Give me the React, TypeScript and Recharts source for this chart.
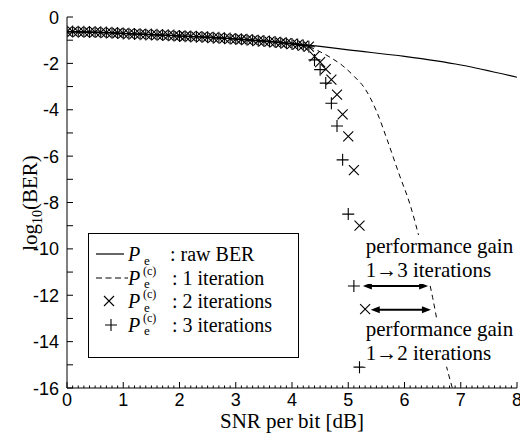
import React from 'react'
import { ComposedChart, Line, Scatter, XAxis, YAxis, ReferenceLine, ReferenceDot, Label } from 'recharts'

// SNR grid for the low-SNR region where every curve overlaps (0 .. 4.3 dB)
const lowSnr = [
  0, 0.1, 0.2, 0.3, 0.4, 0.5, 0.6, 0.7, 0.8, 0.9,
  1.0, 1.1, 1.2, 1.3, 1.4, 1.5, 1.6, 1.7, 1.8, 1.9,
  2.0, 2.1, 2.2, 2.3, 2.4, 2.5, 2.6, 2.7, 2.8, 2.9,
  3.0, 3.1, 3.2, 3.3, 3.4, 3.5, 3.6, 3.7, 3.8, 3.9,
  4.0, 4.1, 4.2, 4.3,
]
const lowSnrLogBer = [
  -0.63, -0.63, -0.64, -0.64, -0.65, -0.65, -0.66, -0.67, -0.68, -0.69,
  -0.71, -0.72, -0.73, -0.74, -0.75, -0.76, -0.77, -0.78, -0.79, -0.8,
  -0.82, -0.83, -0.84, -0.85, -0.86, -0.87, -0.89, -0.9, -0.92, -0.93,
  -0.95, -0.96, -0.98, -1.0, -1.02, -1.04, -1.06, -1.08, -1.11, -1.13,
  -1.16, -1.19, -1.23, -1.28,
]

// 2 iterations (x markers) after the waterfall starts
const iter2TailSnr = [4.4, 4.5, 4.6, 4.7, 4.8, 4.9, 5.0, 5.1, 5.2, 5.3]
const iter2TailLogBer = [-1.7, -1.95, -2.25, -2.7, -3.35, -4.2, -5.15, -6.6, -9.0, -12.6]

// 3 iterations (+ markers)
const iter3TailSnr = [4.4, 4.5, 4.6, 4.7, 4.8, 4.9, 5.0, 5.1, 5.2]
const iter3TailLogBer = [-1.85, -2.27, -2.85, -3.72, -4.7, -6.16, -8.5, -11.6, -15.1]

// raw BER (solid)
const rawSnr = [0, 1, 2, 3, 4, 4.5, 5, 6, 7, 8]
const rawLogBer = [-0.63, -0.71, -0.82, -0.95, -1.14, -1.27, -1.42, -1.7, -2.07, -2.6]

// 1 iteration (dashed)
const iter1Snr = [0, 1, 2, 3, 4, 4.3, 4.5, 4.7, 4.9, 5.1, 5.3, 5.5, 5.7, 5.9, 6.1, 6.3, 6.5, 6.7, 6.85]
const iter1LogBer = [-0.63, -0.71, -0.82, -0.95, -1.16, -1.28, -1.5, -1.77, -2.1, -2.55, -3.1, -4.05, -5.35, -6.75, -8.1, -9.9, -12.1, -14.6, -16]

const xMajorTicks = [0, 1, 2, 3, 4, 5, 6, 7, 8]
const xTicks = Array.from({ length: 81 }, (_, i) => i / 10)
const yTicks = [0, -1, -2, -3, -4, -5, -6, -7, -8, -9, -10, -11, -12, -13, -14, -15, -16]
const yLabelTicks = [0, -2, -4, -6, -8, -10, -12, -14, -16]

const toPoints = (xs: number[], ys: number[]) => xs.map((x, i) => ({ x, y: ys[i] }))
const rawData = toPoints(rawSnr, rawLogBer)
const iter1Data = toPoints(iter1Snr, iter1LogBer)
const iter2Data = toPoints([...lowSnr, ...iter2TailSnr], [...lowSnrLogBer, ...iter2TailLogBer])
const iter3Data = toPoints([...lowSnr, ...iter3TailSnr], [...lowSnrLogBer, ...iter3TailLogBer])

const SERIF = '"Liberation Serif", "Times New Roman", serif'
const SANS = '"Liberation Sans", Arial, sans-serif'

const CrossMark = ({ cx, cy }: any) => (
  <path d={`M${cx - 5},${cy - 5}L${cx + 5},${cy + 5}M${cx - 5},${cy + 5}L${cx + 5},${cy - 5}`} stroke="#000" strokeWidth={1.1} fill="none" />
)
const PlusMark = ({ cx, cy }: any) => (
  <path d={`M${cx - 6},${cy}L${cx + 6},${cy}M${cx},${cy - 6}L${cx},${cy + 6}`} stroke="#000" strokeWidth={1.1} fill="none" />
)

const isMajor = (v: number) => Math.abs(v - Math.round(v)) < 1e-6

const xTick = (side: 'bottom' | 'top') => (p: any) => {
  const v = p.payload.value
  const len = isMajor(v) ? 6 : 2.5
  const dir = side === 'bottom' ? -1 : 1
  return (
    <g>
      <line x1={p.x} x2={p.x} y1={p.y} y2={p.y + dir * len} stroke="#000" strokeWidth={1} />
      {side === 'bottom' && xMajorTicks.includes(v) && (
        <text x={p.x} y={p.y + 18} textAnchor="middle" fontFamily={SANS} fontSize={18} fill="#000">{v}</text>
      )}
    </g>
  )
}

const yTick = (side: 'left' | 'right') => (p: any) => {
  const v = p.payload.value
  const dir = side === 'left' ? 1 : -1
  return (
    <g>
      <line x1={p.x} x2={p.x + dir * 6} y1={p.y} y2={p.y} stroke="#000" strokeWidth={1} />
      {side === 'left' && yLabelTicks.includes(v) && (
        <text x={p.x - 8} y={p.y + 6.5} textAnchor="end" fontFamily={SANS} fontSize={18} fill="#000">{v}</text>
      )}
    </g>
  )
}

const XTitle = () => (
  <text x={292} y={428} textAnchor="middle" fontFamily={SERIF} fontSize={21} fill="#000">SNR per bit [dB]</text>
)
const YTitle = () => (
  <text transform="translate(37,203) rotate(-90)" textAnchor="middle" fontFamily={SERIF} fontSize={21} fill="#000">
    log<tspan fontSize={14} dy={5}>10</tspan><tspan dy={-5}>(BER)</tspan>
  </text>
)

const GainArrow = (p: any) => {
  const { x1, y1, x2, y2 } = p
  return (
    <g>
      <line x1={x1 + 6} y1={y1} x2={x2 - 6} y2={y2} stroke="#000" strokeWidth={2} />
      <polygon points={`${x1},${y1} ${x1 + 9},${y1 - 3.5} ${x1 + 9},${y1 + 3.5}`} fill="#000" />
      <polygon points={`${x2},${y2} ${x2 - 9},${y2 - 3.5} ${x2 - 9},${y2 + 3.5}`} fill="#000" />
    </g>
  )
}

const gainNote = (lines: string[]) => (p: any) => {
  const { cx, cy } = p
  return (
    <g>
      <rect x={cx - 2} y={cy} width={152} height={49} fill="#fff" />
      {lines.map((t, i) => (
        <text key={i} x={cx} y={cy + 18 + i * 24} fontFamily={SERIF} fontSize={21} fill="#000">{t}</text>
      ))}
    </g>
  )
}

const legendRows = [
  { key: 'raw', text: ': raw BER', coded: false },
  { key: 'it1', text: ': 1 iteration', coded: true },
  { key: 'it2', text: ': 2 iterations', coded: true },
  { key: 'it3', text: ': 3 iterations', coded: true },
]

const LegendIcon = ({ k }: { k: string }) => (
  <svg width={36} height={24} style={{ position: 'absolute', left: 4, top: 0 }}>
    {k === 'raw' && <line x1={3} x2={31} y1={12} y2={12} stroke="#000" strokeWidth={1.2} />}
    {k === 'it1' && <line x1={3} x2={35} y1={12} y2={12} stroke="#000" strokeWidth={1} strokeDasharray="6 3.5" />}
    {k === 'it2' && <CrossMark cx={16} cy={12} />}
    {k === 'it3' && <PlusMark cx={18} cy={12} />}
  </svg>
)

const ChartLegend = () => (
  <div style={{ position: 'absolute', left: 88, top: 233, width: 211, height: 125, border: '1px solid #000', background: '#fff', boxSizing: 'border-box', fontFamily: SERIF, fontSize: 20, lineHeight: '24px', color: '#000', paddingTop: 8 }}>
    {legendRows.map(r => (
      <div key={r.key} style={{ position: 'relative', height: 23.5 }}>
        <LegendIcon k={r.key} />
        <span style={{ position: 'absolute', left: 39, top: 0, fontStyle: 'italic' }}>P</span>
        <span style={{ position: 'absolute', left: 55, top: 13.6, fontSize: 13, lineHeight: '9px' }}>e</span>
        {r.coded && <span style={{ position: 'absolute', left: 54, top: 0.2, fontSize: 12, lineHeight: '10px' }}>(c)</span>}
        <span style={{ position: 'absolute', left: r.coded ? 83 : 81, top: 0, whiteSpace: 'nowrap' }}>{r.text}</span>
      </div>
    ))}
  </div>
)

export default function App() {
  return (
    <div style={{ position: 'relative', width: 520, height: 436, background: '#fff' }}>
      <style>{'body{margin:0}'}</style>
      <ComposedChart width={520} height={436} margin={{ top: 17, right: 3, bottom: 0, left: 0 }}>
        <XAxis dataKey="x" type="number" domain={[0, 8]} ticks={xTicks} interval={0} allowDataOverflow
          tickSize={0} tickMargin={0} tickLine={false} axisLine={{ stroke: '#000' }} tick={xTick('bottom')} height={48}>
          <Label content={XTitle} />
        </XAxis>
        <XAxis xAxisId="top" orientation="top" type="number" domain={[0, 8]} ticks={xTicks} interval={0} allowDataOverflow
          tickSize={0} tickMargin={0} tickLine={false} axisLine={{ stroke: '#000' }} tick={xTick('top')} height={0} />
        <YAxis dataKey="y" type="number" domain={[-16, 0]} ticks={yTicks} interval={0} allowDataOverflow
          tickSize={0} tickMargin={0} tickLine={false} axisLine={{ stroke: '#000' }} tick={yTick('left')} width={67}>
          <Label content={YTitle} />
        </YAxis>
        <YAxis yAxisId="right" orientation="right" type="number" domain={[-16, 0]} ticks={yTicks} interval={0} allowDataOverflow
          tickSize={0} tickMargin={0} tickLine={false} axisLine={{ stroke: '#000' }} tick={yTick('right')} width={0} />
        <Line data={rawData} dataKey="y" type="monotone" stroke="#000" strokeWidth={1.2} dot={false} isAnimationActive={false} />
        <Line data={iter1Data} dataKey="y" type="monotone" stroke="#000" strokeWidth={1} strokeDasharray="5 4" dot={false} isAnimationActive={false} />
        <Scatter data={iter2Data} dataKey="y" shape={CrossMark} isAnimationActive={false} />
        <Scatter data={iter3Data} dataKey="y" shape={PlusMark} isAnimationActive={false} />
        <ReferenceDot x={5.31} y={-9.4} r={0} shape={gainNote(['performance gain', '1\u21923 iterations'])} />
        <ReferenceDot x={5.31} y={-12.97} r={0} shape={gainNote(['performance gain', '1\u21922 iterations'])} />
        <ReferenceLine segment={[{ x: 5.26, y: -11.6 }, { x: 6.42, y: -11.6 }]} shape={GainArrow} />
        <ReferenceLine segment={[{ x: 5.4, y: -12.63 }, { x: 6.47, y: -12.63 }]} shape={GainArrow} />
      </ComposedChart>
      <ChartLegend />
    </div>
  )
}
